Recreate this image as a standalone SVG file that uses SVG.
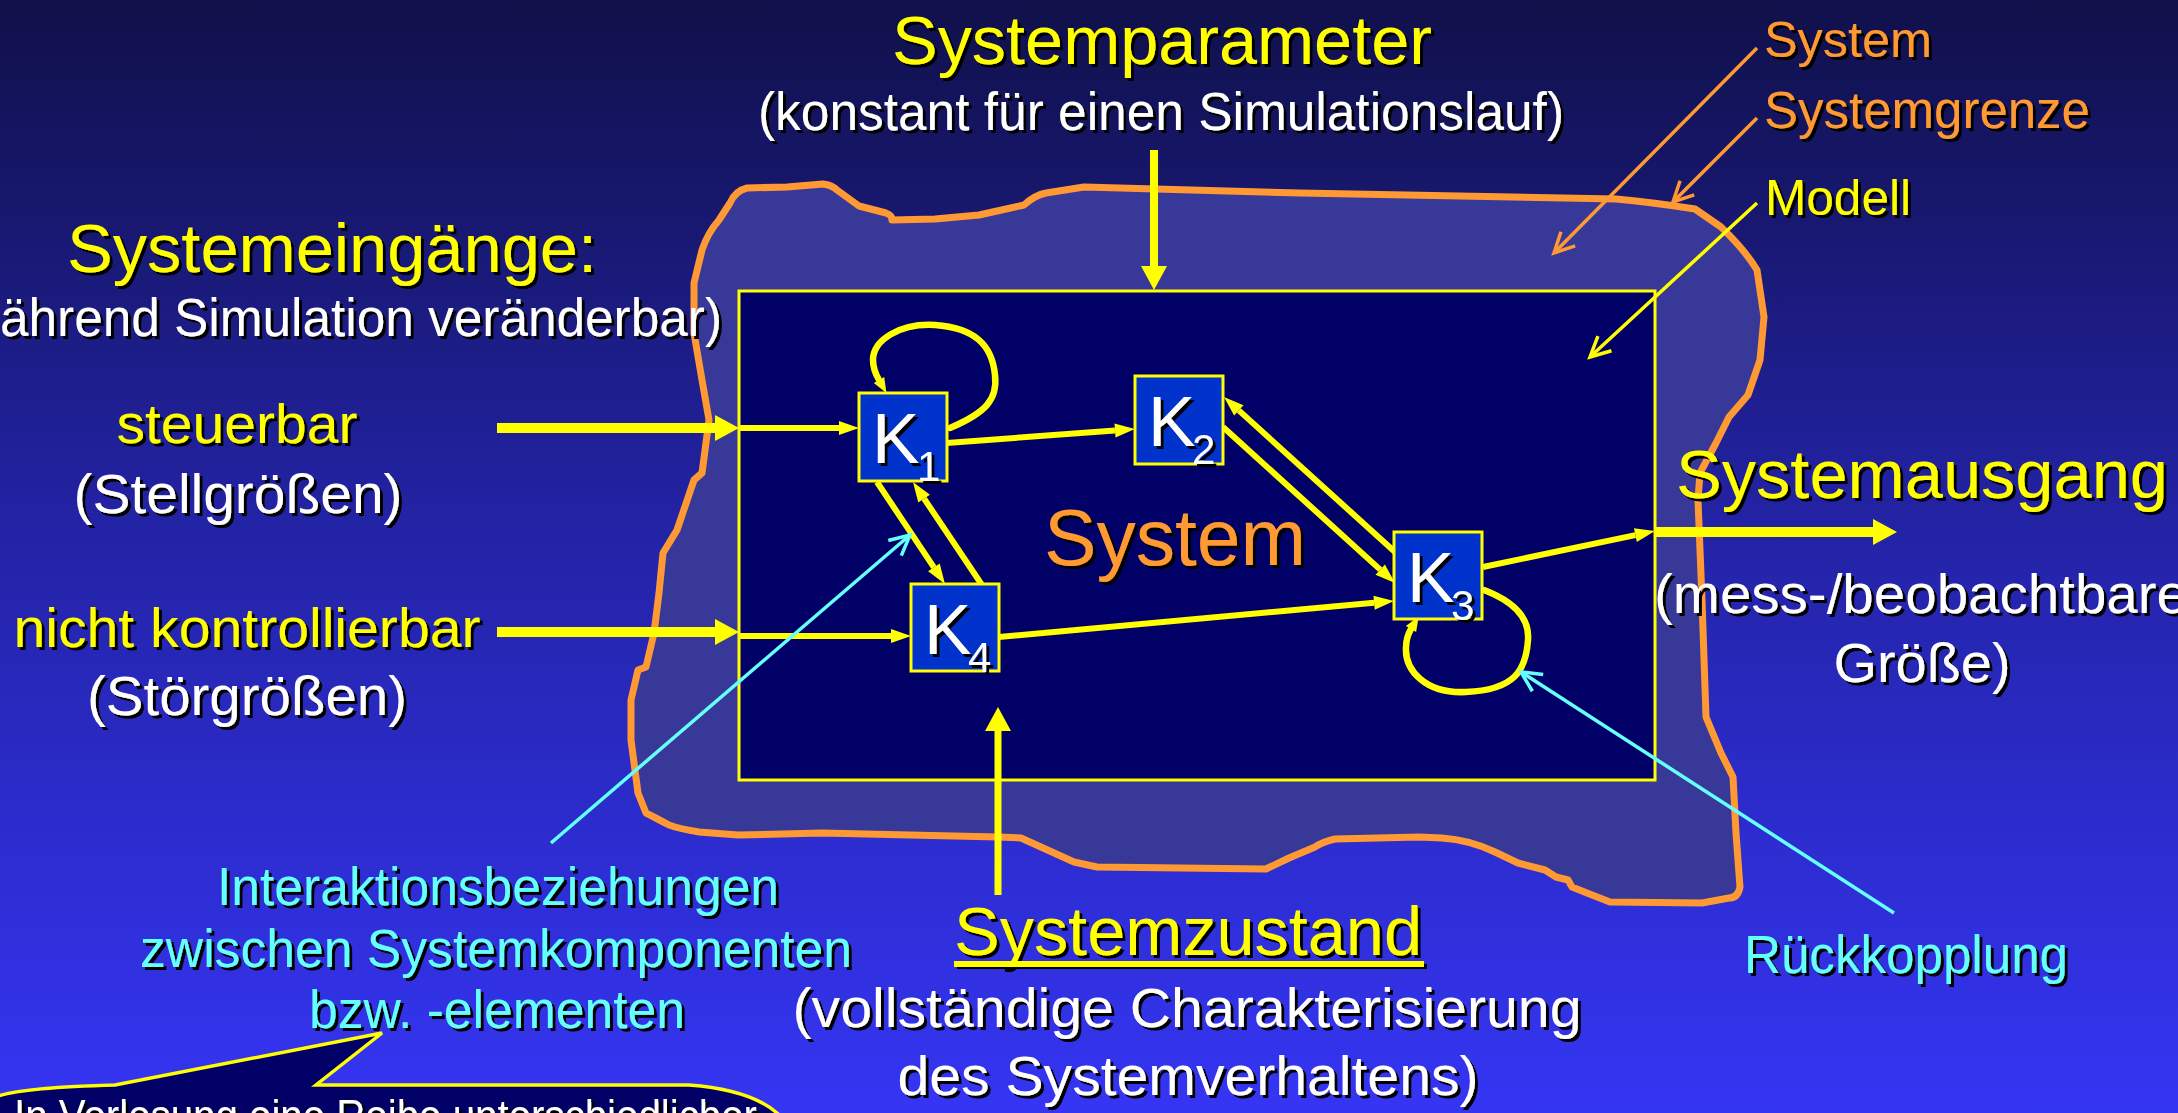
<svg xmlns="http://www.w3.org/2000/svg" width="2178" height="1113" viewBox="0 0 2178 1113">
<defs>
<linearGradient id="bg" x1="0" y1="0" x2="0" y2="1">
<stop offset="0" stop-color="#10104a"/>
<stop offset="0.45" stop-color="#2222a2"/>
<stop offset="1" stop-color="#3535f4"/>
</linearGradient>
<filter id="ts" x="-5%" y="-10%" width="115%" height="130%">
<feDropShadow dx="3" dy="3" stdDeviation="0.6" flood-color="#000" flood-opacity="1"/>
</filter>
<marker id="ah" markerUnits="userSpaceOnUse" markerWidth="22" markerHeight="16" refX="0" refY="7" orient="auto" overflow="visible">
<path d="M0,0 L20,7 L0,14 Z" fill="#ffff00"/>
</marker>
<marker id="ahl" markerUnits="userSpaceOnUse" markerWidth="16" markerHeight="14" refX="0" refY="6" orient="auto" overflow="visible">
<path d="M0,0 L15,6 L0,12 Z" fill="#ffff00"/>
</marker>
<marker id="ahb" markerUnits="userSpaceOnUse" markerWidth="26" markerHeight="28" refX="0" refY="13" orient="auto" overflow="visible">
<path d="M0,0 L24,13 L0,26 Z" fill="#ffff00"/>
</marker>
<marker id="vo" markerUnits="userSpaceOnUse" markerWidth="24" markerHeight="22" refX="22" refY="10" orient="auto" overflow="visible">
<path d="M2,0 L22,10 L2,20" fill="none" stroke="#ff9933" stroke-width="3.5"/>
</marker>
<marker id="vy" markerUnits="userSpaceOnUse" markerWidth="24" markerHeight="22" refX="22" refY="10" orient="auto" overflow="visible">
<path d="M2,0 L22,10 L2,20" fill="none" stroke="#ffff00" stroke-width="3.5"/>
</marker>
<marker id="vc" markerUnits="userSpaceOnUse" markerWidth="24" markerHeight="22" refX="22" refY="10" orient="auto" overflow="visible">
<path d="M2,0 L22,10 L2,20" fill="none" stroke="#66ffff" stroke-width="3.5"/>
</marker>
</defs>
<style>
text{font-family:"Liberation Sans",Arial,sans-serif;filter:url(#ts)}
.y{fill:#ffff00}.w{fill:#ffffff}.o{fill:#ff9933}.c{fill:#66ffff}
.t{font-size:69px}.s{font-size:56px}.m{font-size:53px}
.box{fill:#0033cc;stroke:#ffff00;stroke-width:3}
.k{font-size:71px;fill:#fff}.sub{font-size:42px}
.cn{fill:none;stroke:#ffff00;stroke-width:6}
.lp{fill:none;stroke:#ffff00;stroke-width:6.5;stroke-linecap:round}
.an{fill:none;stroke-width:3.5}
</style>
<rect x="0" y="0" width="2178" height="1113" fill="url(#bg)"/>

<g id="systemgrenze">
<path d="M702,250 C706,238 712,228 719,220 L730,203 Q735,191 747,188 L787,187 L823,184 Q832,185 837,190 L859,206 L886,213 Q892,215 892,220 L935,219 L979,215 L1024,205 Q1035,195 1046,193 L1084,187 L1300,193 L1616,199 Q1650,202 1695,209 L1721,227 Q1745,250 1757,270 L1764,317 L1760,360 L1748,395 L1729,417 L1716,443 L1700,473 L1698,500 L1702,600 L1706,717 L1721,753 L1733,777 L1736,833 L1740,887 Q1738,898 1729,898 L1702,903 L1610,902 L1587,893 L1572,887 L1568,880 L1556,877 L1545,870 L1518,863 L1495,852 Q1470,840 1442,838 L1419,837 L1335,839 Q1322,842 1315,847 L1289,858 L1270,867 L1266,869 L1097,867 L1074,862 L1021,838 L998,837 L822,833 L738,835 L699,832 Q680,829 669,825 Q652,816 646,813 L638,793 L631,740 L631,700 L638,670 L646,667 L654,633 L659,593 L663,553 L677,530 L694,480 L702,473 L709,420 L702,380 L694,333 L694,283 Z" fill="#383898" stroke="#ff9933" stroke-width="7" stroke-linejoin="round"/>
</g>

<g id="modell">
<rect x="739" y="291" width="916" height="489" fill="#000066" stroke="#ffff00" stroke-width="3"/>
</g>

<text class="o" x="1044" y="565" font-size="80" textLength="262" lengthAdjust="spacingAndGlyphs">System</text>

<g id="connectors">
<line class="cn" x1="947" y1="443" x2="1115" y2="430.5" marker-end="url(#ah)"/>
<line class="cn" x1="877" y1="482" x2="933.9" y2="567.4" marker-end="url(#ah)"/>
<line class="cn" x1="982" y1="585" x2="924.1" y2="498.6" marker-end="url(#ah)"/>
<line class="cn" x1="1223" y1="427" x2="1380.2" y2="569.6" marker-end="url(#ah)"/>
<line class="cn" x1="1395" y1="552" x2="1238.8" y2="410.4" marker-end="url(#ah)"/>
<line class="cn" x1="999" y1="637" x2="1374.1" y2="602.8" marker-end="url(#ah)"/>
<line class="cn" x1="1483" y1="567" x2="1635.4" y2="535.1" marker-end="url(#ah)"/>
<line class="cn" x1="739" y1="428" x2="839" y2="428" marker-end="url(#ah)"/>
<line class="cn" x1="739" y1="636" x2="891" y2="636" marker-end="url(#ah)"/>
<path class="lp" d="M950,428 C985,413 998,400 995,375 C992,345 975,328 935,325 C900,323 873,340 873,360 C873,368 875,373 879,380" marker-end="url(#ahl)"/>
<path class="lp" d="M1484,590 C1510,600 1530,615 1528,640 C1526,670 1515,690 1466,692 C1425,694 1405,670 1406,648 C1406,640 1408,634 1411,629" marker-end="url(#ahl)"/>
<line x1="1154" y1="150" x2="1154" y2="266" stroke="#ffff00" stroke-width="8" marker-end="url(#ahb)"/>
<line x1="497" y1="428" x2="715" y2="428" stroke="#ffff00" stroke-width="10" marker-end="url(#ahb)"/>
<line x1="497" y1="632" x2="715" y2="632" stroke="#ffff00" stroke-width="10" marker-end="url(#ahb)"/>
<line x1="1655" y1="532" x2="1873" y2="532" stroke="#ffff00" stroke-width="10" marker-end="url(#ahb)"/>
<line x1="998" y1="895" x2="998" y2="731" stroke="#ffff00" stroke-width="7" marker-end="url(#ahb)"/>
<line class="an" x1="1757" y1="48" x2="1554" y2="253" stroke="#ff9933" marker-end="url(#vo)"/>
<line class="an" x1="1757" y1="118" x2="1673" y2="202" stroke="#ff9933" marker-end="url(#vo)"/>
<line class="an" x1="1757" y1="203" x2="1590" y2="357" stroke="#ffff00" marker-end="url(#vy)"/>
<line class="an" x1="551" y1="843" x2="910" y2="535" stroke="#66ffff" marker-end="url(#vc)"/>
<line class="an" x1="1894" y1="913" x2="1521" y2="672" stroke="#66ffff" marker-end="url(#vc)"/>
</g>

<g id="K1"><rect class="box" x="859" y="393" width="88" height="88"/><text class="k" x="872" y="463">K<tspan class="sub" x="917" y="481">1</tspan></text></g>
<g id="K2"><rect class="box" x="1135" y="376" width="88" height="88"/><text class="k" x="1148" y="446">K<tspan class="sub" x="1192" y="464">2</tspan></text></g>
<g id="K3"><rect class="box" x="1394" y="532" width="88" height="87"/><text class="k" x="1407" y="602">K<tspan class="sub" x="1451" y="620">3</tspan></text></g>
<g id="K4"><rect class="box" x="911" y="584" width="88" height="87"/><text class="k" x="924" y="654">K<tspan class="sub" x="968" y="672">4</tspan></text></g>

<g id="labels">
<text class="y t" x="1162" y="64" text-anchor="middle" textLength="540" lengthAdjust="spacingAndGlyphs">Systemparameter</text>
<text class="w m" x="1161" y="130" text-anchor="middle" textLength="806" lengthAdjust="spacingAndGlyphs">(konstant für einen Simulationslauf)</text>
<text class="y t" x="332" y="272" text-anchor="middle" textLength="530" lengthAdjust="spacingAndGlyphs">Systemeingänge:</text>
<text class="w m" x="0" y="336" textLength="722" lengthAdjust="spacingAndGlyphs">ährend Simulation veränderbar)</text>
<text class="y s" x="237" y="443" text-anchor="middle" textLength="241" lengthAdjust="spacingAndGlyphs">steuerbar</text>
<text class="w s" x="238" y="513" text-anchor="middle" textLength="329" lengthAdjust="spacingAndGlyphs">(Stellgrößen)</text>
<text class="y s" x="247" y="647" text-anchor="middle" textLength="467" lengthAdjust="spacingAndGlyphs">nicht kontrollierbar</text>
<text class="w s" x="247" y="715" text-anchor="middle" textLength="320" lengthAdjust="spacingAndGlyphs">(Störgrößen)</text>
<text class="y t" x="1676" y="498" textLength="492" lengthAdjust="spacingAndGlyphs">Systemausgang</text>
<text class="w s" x="1921" y="613" text-anchor="middle" textLength="534" lengthAdjust="spacingAndGlyphs">(mess-/beobachtbare</text>
<text class="w s" x="1922" y="682" text-anchor="middle" textLength="177" lengthAdjust="spacingAndGlyphs">Größe)</text>
<text class="o" x="1764" y="57" font-size="50" textLength="168" lengthAdjust="spacingAndGlyphs">System</text>
<text class="o" x="1764" y="128" font-size="51" textLength="326" lengthAdjust="spacingAndGlyphs">Systemgrenze</text>
<text class="y" x="1765" y="215" font-size="50" textLength="146" lengthAdjust="spacingAndGlyphs">Modell</text>
<text class="c m" x="498" y="905" text-anchor="middle" textLength="562" lengthAdjust="spacingAndGlyphs">Interaktionsbeziehungen</text>
<text class="c m" x="496" y="967" text-anchor="middle" textLength="712" lengthAdjust="spacingAndGlyphs">zwischen Systemkomponenten</text>
<text class="c m" x="497" y="1028" text-anchor="middle" textLength="376" lengthAdjust="spacingAndGlyphs">bzw. -elementen</text>
<text class="y t" x="954" y="955" textLength="468" lengthAdjust="spacingAndGlyphs">Systemzustand</text>
<rect x="954" y="961" width="470" height="6" fill="#ffff00" filter="url(#ts)"/>
<text class="w s" x="1187" y="1027" text-anchor="middle" textLength="789" lengthAdjust="spacingAndGlyphs">(vollständige Charakterisierung</text>
<text class="w s" x="1188" y="1095" text-anchor="middle" textLength="581" lengthAdjust="spacingAndGlyphs">des Systemverhaltens)</text>
<text class="c m" x="1744" y="973" textLength="324" lengthAdjust="spacingAndGlyphs">Rückkopplung</text>
</g>

<g id="callout">
<path d="M-10,1140 L-10,1100 Q5,1088 115,1085 L382,1033 L316,1085 L689,1085 Q780,1092 795,1140 Z" fill="#000066" stroke="#ffff00" stroke-width="3.5" stroke-linejoin="miter"/>
<text class="w" x="14" y="1131" font-size="44" textLength="743" lengthAdjust="spacingAndGlyphs">In Vorlesung eine Reihe unterschiedlicher</text>
</g>
</svg>
